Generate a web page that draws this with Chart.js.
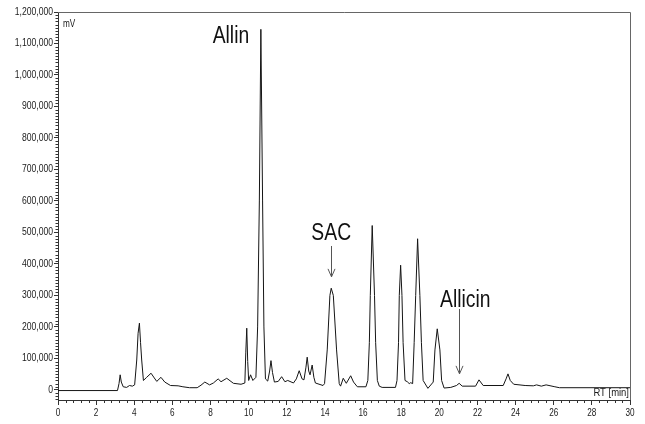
<!DOCTYPE html>
<html>
<head>
<meta charset="utf-8">
<script src="https://cdn.jsdelivr.net/npm/chart.js@4.4.1/dist/chart.umd.min.js"></script>
<style>
  html, body { margin: 0; padding: 0; background: #fff; }
  #wrap { width: 645px; height: 424px; }
</style>
</head>
<body>
<div id="wrap"><canvas id="chrom"></canvas></div>
<script>
// retention time (min) and detector signal (mV)
const rtMin = [
  0, 3.12, 3.2, 3.26, 3.32, 3.42, 3.6, 3.75, 3.9, 4.02,
  4.13, 4.2, 4.27, 4.33, 4.39, 4.48, 4.65, 4.88, 5.05, 5.18,
  5.4, 5.6, 5.9, 6.3, 6.55, 6.9, 7.3, 7.5, 7.7, 7.95,
  8.15, 8.4, 8.55, 8.85, 9.2, 9.6, 9.8, 9.85, 9.9, 9.95,
  10.0, 10.1, 10.22, 10.38, 10.47, 10.56, 10.64, 10.73, 10.8, 10.88,
  11.0, 11.1, 11.17, 11.25, 11.35, 11.55, 11.73, 11.9, 12.05, 12.35,
  12.5, 12.65, 12.8, 12.9, 13.0, 13.07, 13.15, 13.22, 13.33, 13.42,
  13.5, 13.9, 13.98, 14.12, 14.26, 14.33, 14.44, 14.61, 14.75, 14.82,
  14.96, 15.12, 15.35, 15.5, 15.7, 16.15, 16.25, 16.33, 16.38, 16.48,
  16.6, 16.66, 16.75, 16.85, 17.0, 17.7, 17.78, 17.86, 17.9, 17.97,
  18.04, 18.1, 18.2, 18.32, 18.42, 18.5, 18.6, 18.68, 18.76, 18.86,
  18.98, 19.06, 19.15, 19.4, 19.68, 19.77, 19.89, 20.03, 20.12, 20.25,
  20.6, 20.9, 21.04, 21.2, 21.9, 22.08, 22.3, 23.35, 23.5, 23.6,
  23.72, 23.9, 24.5, 24.93, 25.1, 25.35, 25.6, 26.06, 26.3, 30
];
const signalMV = [
  -2000, -2000, 20000, 48000, 25000, 10000, 8000, 14000, 12000, 16000,
  95000, 180000, 212000, 150000, 95000, 30000, 40000, 53000, 38000, 27000,
  40000, 25000, 14000, 13000, 10000, 7000, 7000, 15000, 25000, 16000,
  22000, 35000, 26000, 37000, 21000, 18000, 22000, 120000, 196000, 90000,
  30000, 48000, 30000, 40000, 200000, 600000, 1145000, 600000, 200000, 35000,
  28000, 60000, 93000, 55000, 25000, 27000, 42000, 26000, 30000, 22000,
  35000, 61000, 35000, 32000, 70000, 104000, 60000, 48000, 79000, 40000,
  22000, 14000, 20000, 127000, 300000, 323000, 300000, 127000, 20000, 12000,
  37000, 21000, 45000, 25000, 10000, 10000, 30000, 150000, 300000, 522000,
  300000, 150000, 30000, 12000, 8000, 8000, 30000, 150000, 300000, 396000,
  300000, 150000, 30000, 26000, 20000, 23000, 20000, 150000, 300000, 480000,
  300000, 150000, 30000, 5000, 25000, 127000, 194000, 127000, 30000, 6000,
  8000, 14000, 21000, 12000, 12000, 32000, 14000, 14000, 35000, 51000,
  30000, 18000, 14000, 13000, 16000, 12000, 16000, 10000, 7000, 7000
];

const xTicks = [0, 2, 4, 6, 8, 10, 12, 14, 16, 18, 20, 22, 24, 26, 28, 30];
const yTicks = [0, 100000, 200000, 300000, 400000, 500000, 600000, 700000,
                800000, 900000, 1000000, 1100000, 1200000];

// peak labels: name, centre rt, signal at text baseline; arrow from/to signal (or null)
const peakNames = ['Allin', 'SAC', 'Allicin'];
const peakTextRt = [9.07, 14.33, 21.36];
const peakTextMV = [1100000, 476000, 262000];
const arrowRt = [null, 14.32, 21.04];
const arrowTopMV = [null, 457000, 257000];
const arrowTipMV = [null, 359000, 51000];

const FONT = "'Liberation Sans', Arial, sans-serif";

const points = rtMin.map((t, i) => ({ x: t, y: signalMV[i] }));

// the original uses a narrow face; squeeze Liberation Sans horizontally
function squeezedText(ctx, text, x, y, align, size, sx) {
    ctx.save();
    ctx.translate(x, y);
    ctx.scale(sx, 1);
    ctx.font = size + 'px ' + FONT;
    ctx.textAlign = align;
    ctx.fillText(text, 0, 0);
    ctx.restore();
}

const decorPlugin = {
    id: 'decor',
    afterDraw(chart) {
        const ctx = chart.ctx;
        const a = chart.chartArea;
        const xs = chart.scales.x;
        const ys = chart.scales.y;
        ctx.save();

        // top and right frame
        ctx.strokeStyle = '#666';
        ctx.lineWidth = 1;
        ctx.beginPath();
        ctx.moveTo(a.left, a.top + 0.5);
        ctx.lineTo(a.right + 0.5, a.top + 0.5);
        ctx.lineTo(a.right + 0.5, a.bottom);
        ctx.stroke();

        // minor ticks
        ctx.strokeStyle = '#333';
        ctx.beginPath();
        for (let k = 0; k <= 75; k++) {
            if (k % 5 === 0) continue;
            const px = Math.round(xs.getPixelForValue(k * 0.4)) + 0.5;
            ctx.moveTo(px, a.bottom);
            ctx.lineTo(px, a.bottom + 3);
        }
        for (let k = -3; k <= 120; k++) {
            if (k % 10 === 0) continue;
            const py = Math.round(ys.getPixelForValue(k * 10000)) + 0.5;
            ctx.moveTo(a.left - 2.5, py);
            ctx.lineTo(a.left, py);
        }
        ctx.stroke();

        // tick labels
        ctx.fillStyle = '#1a1a1a';
        ctx.textBaseline = 'middle';
        xs.ticks.forEach(t => {
            squeezedText(ctx, String(t.value), xs.getPixelForValue(t.value), a.bottom + 13, 'center', 10.5, 0.78);
        });
        ys.ticks.forEach(t => {
            squeezedText(ctx, t.value.toLocaleString('en-US'), a.left - 5, ys.getPixelForValue(t.value), 'right', 10.5, 0.82);
        });

        // axis captions
        ctx.textBaseline = 'alphabetic';
        squeezedText(ctx, 'mV', a.left + 5, a.top + 15, 'left', 10, 0.82);
        squeezedText(ctx, 'RT [min]', a.right - 1, a.bottom - 4, 'right', 11, 0.86);

        // peak names
        ctx.fillStyle = '#111';
        peakNames.forEach((name, i) => {
            squeezedText(ctx, name, xs.getPixelForValue(peakTextRt[i]), ys.getPixelForValue(peakTextMV[i]), 'center', 23, 0.84);
        });

        // arrows
        ctx.strokeStyle = '#555';
        ctx.lineWidth = 1;
        arrowRt.forEach((rt, i) => {
            if (rt === null) return;
            const px = Math.round(xs.getPixelForValue(rt)) + 0.5;
            const top = ys.getPixelForValue(arrowTopMV[i]);
            const tip = ys.getPixelForValue(arrowTipMV[i]);
            ctx.beginPath();
            ctx.moveTo(px, top);
            ctx.lineTo(px, tip);
            ctx.moveTo(px - 3.5, tip - 8);
            ctx.lineTo(px, tip);
            ctx.lineTo(px + 3.5, tip - 8);
            ctx.stroke();
        });

        ctx.restore();
    }
};

new Chart(document.getElementById('chrom'), {
    type: 'line',
    data: {
        datasets: [{
            data: points,
            borderColor: '#151515',
            borderWidth: 1,
            pointRadius: 0,
            tension: 0,
            fill: false
        }]
    },
    options: {
        responsive: true,
        maintainAspectRatio: false,
        animation: false,
        layout: { padding: { left: 0, right: 15, top: 12, bottom: 0 } },
        plugins: {
            legend: { display: false },
            tooltip: { enabled: false }
        },
        scales: {
            x: {
                type: 'linear',
                min: 0,
                max: 30,
                afterBuildTicks: (s) => { s.ticks = xTicks.map(v => ({ value: v })); },
                afterFit: (s) => { s.height = 24; },
                grid: { drawOnChartArea: false, tickLength: 5, color: '#333' },
                border: { color: '#333' },
                ticks: { display: false }
            },
            y: {
                type: 'linear',
                min: -32000,
                max: 1200000,
                afterBuildTicks: (s) => { s.ticks = yTicks.map(v => ({ value: v })); },
                afterFit: (s) => { s.width = 58; },
                grid: { drawOnChartArea: false, tickLength: 4, color: '#333' },
                border: { color: '#333' },
                ticks: { display: false }
            }
        }
    },
    plugins: [decorPlugin]
});
</script>
</body>
</html>
